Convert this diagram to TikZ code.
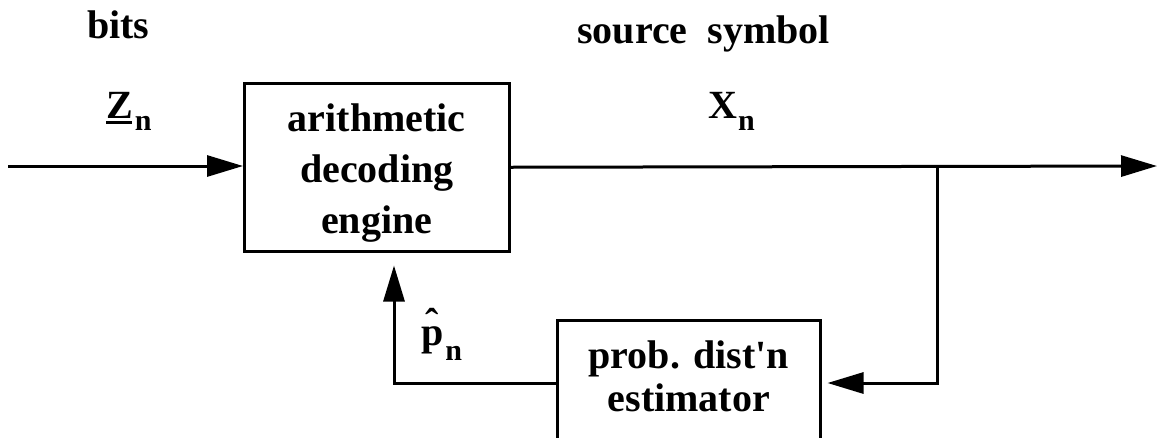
\documentclass[tikz,border=0pt]{standalone}
\usepackage{fontspec}
\setmainfont{Liberation Serif}[Ligatures=TeXOff]
\usetikzlibrary{arrows.meta}
% lowered, smaller subscript letter
\newcommand\lowsub[2][12pt]{\raisebox{-#1}{\fontsize{30}{30}\selectfont #2}}
% p with a raised circumflex above it
\newcommand\phat{\makebox[0pt][l]{\makebox[22pt]{\raisebox{9pt}{\char"02C6}}}p}
\begin{document}
\begin{tikzpicture}[x=1pt,y=-1pt,
  lbl/.style={font=\fontsize{40}{50}\selectfont\bfseries, inner sep=0pt, anchor=base west},
  block/.style={draw, line width=2.5pt, inner sep=0pt, anchor=north west},
  conn/.style={line width=3pt},
  arr/.style={conn, -{Triangle[length=36pt,width=21pt]}}]
\useasboundingbox (0,0) rectangle (1158,437);
\clip (0,0) rectangle (1158,437);

% blocks
\node[block, minimum width=265pt, text height=48pt, text depth=120pt,
      font=\fontsize{40}{51}\selectfont\bfseries] (dec) at (243,82)
  {\begin{tabular}[t]{@{}c@{}}arithmetic\\decoding\\engine\end{tabular}};
\node[block, minimum width=263pt, text height=48pt, text depth=200pt,
      font=\fontsize{40}{43}\selectfont\bfseries] (est) at (556,319)
  {\begin{tabular}[t]{@{}c@{}}prob. dist'n\\estimator\end{tabular}};

% labels
\node[lbl] (bits) at (87,38) {bits};
\node[lbl] (srcsym) at (577,43) {source~~symbol};
\node[lbl] (zlab) at (106,118) {\rlap{\rule[-6pt]{26pt}{3pt}}Z\kern2pt\lowsub{n}};
\node[lbl] (xlab) at (708,118) {X\kern1pt\lowsub{n}};
\node[lbl] (plab) at (421,345) {\phat\kern2pt\lowsub[15pt]{n}};

% connector points
\coordinate (in) at (8,166);
\coordinate (out) at (1157,166);
\coordinate (tap) at (937,166);
\coordinate (fb) at (937,383);
\coordinate (ret) at (394,383);

% connectors
\draw[arr] (in) -- (in -| dec.west);
\draw[arr] (dec.east) -- (out);
\draw[arr, shorten >=6pt] (tap) -- (fb) -- (fb -| est.east);
\draw[arr, shorten >=13pt] (fb -| est.west) -- (ret) -- (ret |- dec.south);
\end{tikzpicture}
\end{document}
